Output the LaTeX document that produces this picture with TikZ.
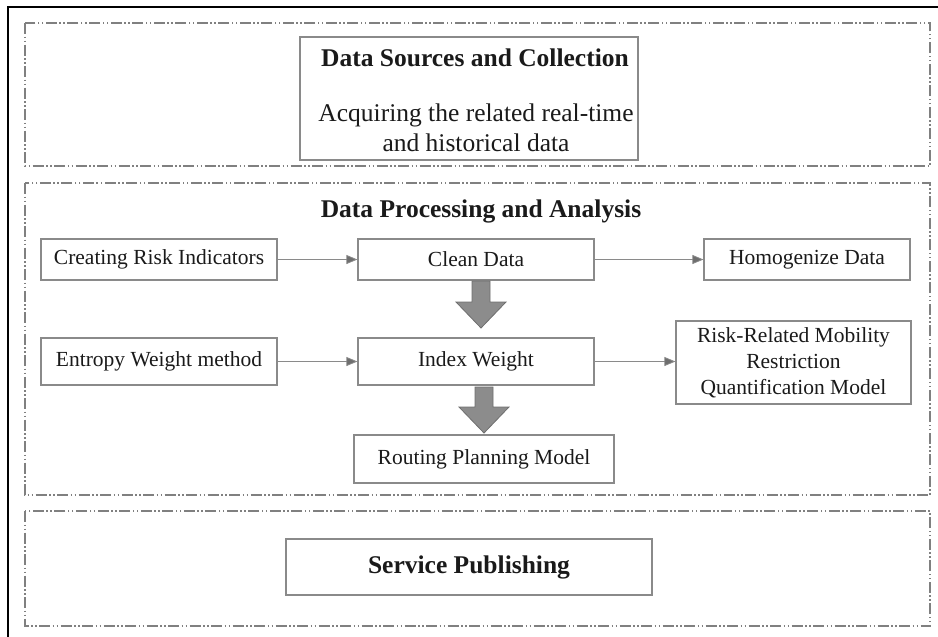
\documentclass[tikz,border=0pt]{standalone}
\usepackage{fontspec}
\setmainfont{Liberation Serif}
\usetikzlibrary{arrows.meta}
\definecolor{boxgray}{HTML}{8A8A8A}
\definecolor{framegray}{HTML}{808080}
\definecolor{txt}{HTML}{1A1A1A}
\definecolor{arrfill}{HTML}{8C8C8C}
\definecolor{arrdraw}{HTML}{6E6E6E}
\tikzset{
  frame/.style={draw=framegray, line width=1.1pt, dash pattern=on 11pt off 2.5pt on 1.5pt off 2.5pt on 1.5pt off 2.5pt},
  procbox/.style={draw=boxgray, line width=1.2pt, fill=white, text=txt, font=\fontsize{21.5}{26}\selectfont, align=center, inner sep=0pt},
  titletext/.style={text=txt, font=\fontsize{25.5}{30}\selectfont\bfseries, anchor=base, inner sep=0pt},
  thinarrow/.style={draw=boxgray, line width=0.8pt, -{Triangle[length=11pt,width=9pt,fill=arrdraw]}},
  bigarrow/.style={fill=arrfill, draw=arrdraw, line width=0.8pt},
}
\begin{document}
\begin{tikzpicture}[x=1pt,y=-1pt]
\useasboundingbox (0,0) rectangle (938,637);
% outer border (top and left only)
\coordinate (otl) at (8,7);
\coordinate (otr) at (938,7);
\coordinate (obl) at (8,637);
\draw[black, line width=1.3pt] (otr) -- (otl) -- (obl);
% frames
\draw[frame] (25,23) rectangle (930,166);
\draw[frame] (25,183) rectangle (930,495);
\draw[frame] (25,511) rectangle (930,626);

% Data sources box
\node[procbox, minimum width=338pt, minimum height=123pt] (src) at (469,98.5) {};
\node[titletext] (srct) at (475,66) {Data Sources and Collection};
\node[text=txt, font=\fontsize{25.5}{30}\selectfont, anchor=base, inner sep=0pt] (srcd1) at (476,121) {Acquiring the related real-time};
\node[text=txt, font=\fontsize{25.5}{30}\selectfont, anchor=base, inner sep=0pt] (srcd2) at (476,151) {and historical data};

% Title of processing
\node[titletext] (proct) at (481,217) {Data Processing and Analysis};

% row 1
\node[procbox, minimum width=236pt, minimum height=41pt] (cri) at (159,259.5) {Creating Risk Indicators};
\node[procbox, minimum width=236pt, minimum height=41pt] (clean) at (476,259.5) {Clean Data};
\node[procbox, minimum width=206pt, minimum height=41pt] (homo) at (807,259.5) {Homogenize Data};
% row 2
\node[procbox, minimum width=236pt, minimum height=47pt] (ent) at (159,361.5) {Entropy Weight method};
\node[procbox, minimum width=236pt, minimum height=47pt] (idx) at (476,361.5) {Index Weight};
\node[procbox, minimum width=235pt, minimum height=83pt] (risk) at (793.5,362.5) {Risk-Related Mobility\\Restriction\\Quantification Model};
% row 3
\node[procbox, minimum width=260pt, minimum height=48pt] (route) at (484,459) {Routing Planning Model};

% service
\node[procbox, minimum width=366pt, minimum height=56pt, font=\fontsize{25.5}{30}\selectfont\bfseries] (serv) at (469,567) {Service Publishing};

% thin arrows
\draw[thinarrow] (cri.east) -- (clean.west);
\draw[thinarrow] (clean.east) -- (homo.west);
\draw[thinarrow] (ent.east) -- (idx.west);
\draw[thinarrow] (idx.east) -- (risk.west |- idx.east);

% block arrows
\coordinate (a1) at (481,281);
\coordinate (a2) at (484,387);
\draw[bigarrow] (a1) ++(-9,0) -- ++(18,0) -- ++(0,21) -- ++(16,0) -- ++(-25,26) -- ++(-25,-26) -- ++(16,0) -- cycle;
\draw[bigarrow] (a2) ++(-9,0) -- ++(18,0) -- ++(0,20) -- ++(16,0) -- ++(-25,26) -- ++(-25,-26) -- ++(16,0) -- cycle;
\end{tikzpicture}
\end{document}
